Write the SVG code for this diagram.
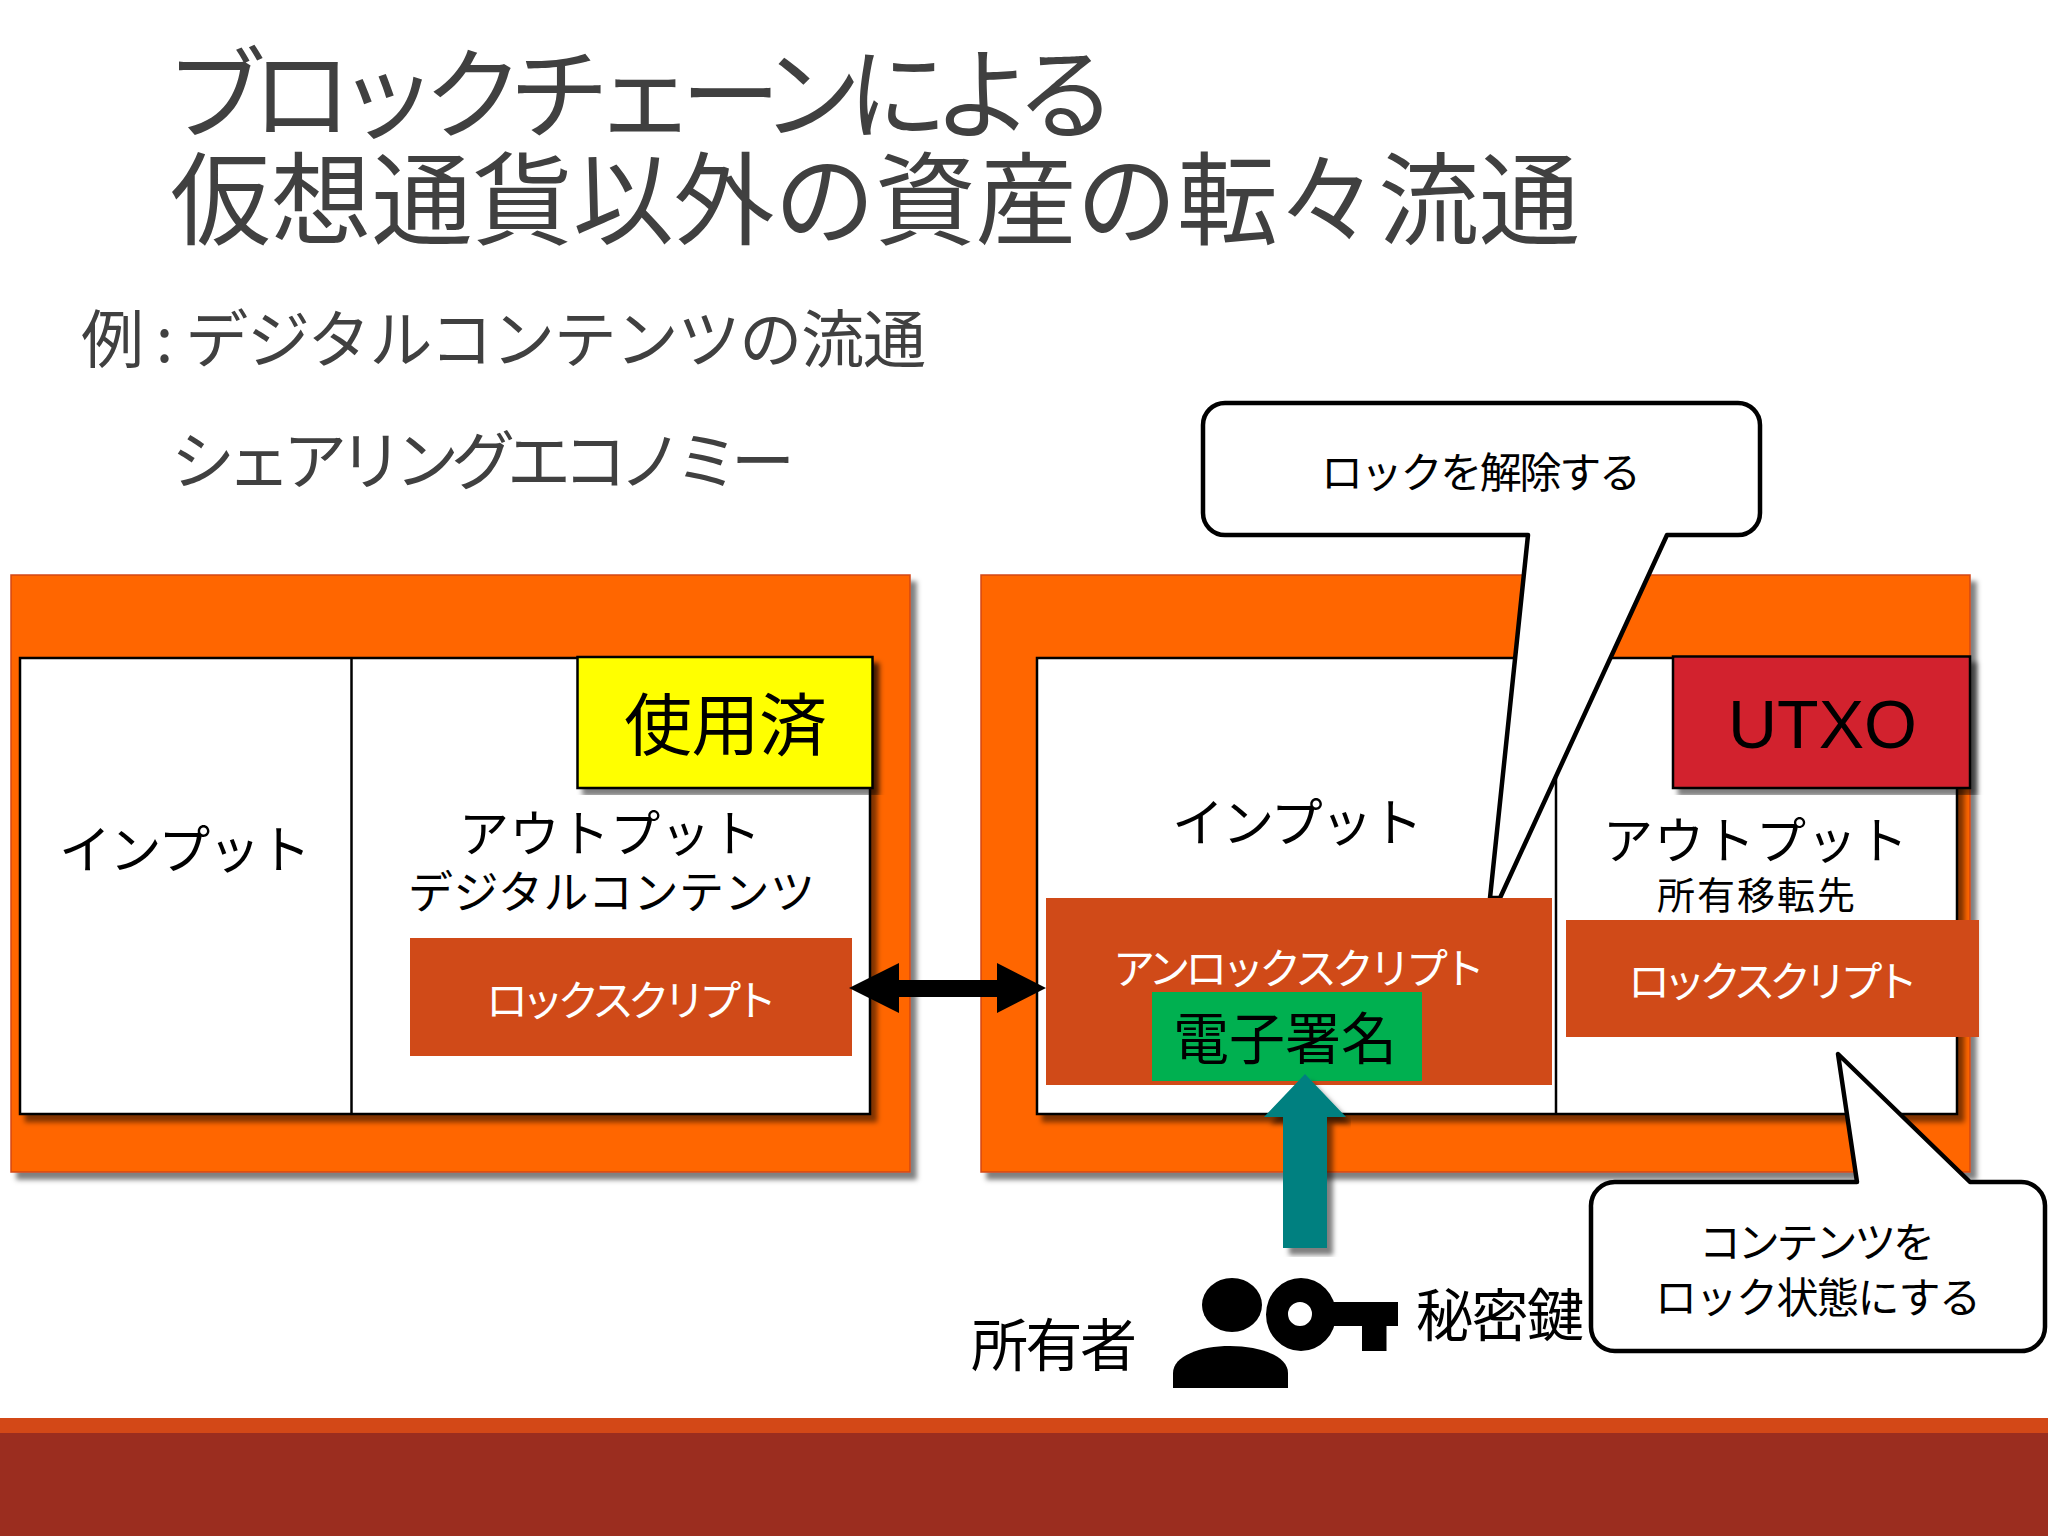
<svg xmlns="http://www.w3.org/2000/svg" width="2048" height="1536" viewBox="0 0 2048 1536">
<defs>
<filter id="sh" x="-5%" y="-5%" width="110%" height="110%"><feDropShadow dx="6" dy="7" stdDeviation="2.500" flood-color="#000" flood-opacity="0.5"/></filter>
</defs>
<style>
text{font-family:"Noto Sans CJK JP","Liberation Sans",sans-serif;fill:#000}
.t{fill:#404040}
.w{fill:#fff}
.o{fill:#ff6600;stroke:#d34817;stroke-width:1.5}
.b{fill:#fff;stroke:#000;stroke-width:2.5}
.l{fill:#d04a18}
.c{fill:#fff;stroke:#000;stroke-width:4.5;stroke-linejoin:round}
</style>
<rect width="2048" height="1536" fill="#fff"/>
<g id="band"><rect y="1418" width="2048" height="15" fill="#d34817"/><rect y="1433" width="2048" height="103" fill="#9b2d1f"/></g>
<g id="title">
<text class="t" x="166" y="131" font-size="100" textLength="950">ブロックチェーンによる</text>
<text class="t" x="170" y="237" font-size="101" textLength="1410">仮想通貨以外の資産の転々流通</text>
</g>
<g id="subtitle">
<text class="t" x="81" y="362" font-size="63" textLength="845">例 : デジタルコンテンツの流通</text>
<text class="t" x="171" y="484" font-size="64" textLength="624">シェアリングエコノミー</text>
</g>
<g id="tx-left">
<rect class="o" x="11" y="575" width="899" height="597" filter="url(#sh)"/>
<rect class="b" x="20" y="658" width="850" height="456" filter="url(#sh)"/>
<line x1="351.500" y1="658" x2="351.500" y2="1114" stroke="#000" stroke-width="2.500"/>
<text x="59" y="869" font-size="52" textLength="252">インプット</text>
<text x="459" y="852" font-size="50" textLength="302">アウトプット</text>
<text x="408" y="909" font-size="45" textLength="407">デジタルコンテンツ</text>
</g>
<g id="used">
<rect x="577.500" y="657" width="295" height="131" fill="#ffff00" stroke="#000" stroke-width="2.500" filter="url(#sh)"/>
<text x="624" y="750" font-size="68" textLength="203">使用済</text>
</g>
<g id="lock-left">
<rect class="l" x="410" y="938" width="442" height="118"/>
<text class="w" x="486" y="1016" font-size="42" textLength="291">ロックスクリプト</text>
</g>
<g id="tx-right">
<rect class="o" x="981" y="575" width="989" height="597" filter="url(#sh)"/>
<rect class="b" x="1037" y="658" width="920" height="456" filter="url(#sh)"/>
<line x1="1556" y1="658" x2="1556" y2="1114" stroke="#000" stroke-width="2.500"/>
<text x="1172" y="842" font-size="52" textLength="251">インプット</text>
<text x="1603" y="859" font-size="50" textLength="305">アウトプット</text>
<text x="1657" y="909" font-size="38" textLength="198">所有移転先</text>
</g>
<g id="utxo">
<rect x="1673" y="656.500" width="297" height="131.500" fill="#d2232e" stroke="#000" stroke-width="2.500" filter="url(#sh)"/>
<text x="1728" y="748" font-size="68" style="font-family:'Liberation Sans',sans-serif">UTXO</text>
</g>
<g id="callout-unlock">
<path class="c" d="M1225 403H1738A22 22 0 0 1 1760 425V513A22 22 0 0 1 1738 535H1667L1500 898H1490L1528 535H1225A22 22 0 0 1 1203 513V425A22 22 0 0 1 1225 403Z"/>
<text x="1321" y="488" font-size="42" textLength="320">ロックを解除する</text>
</g>
<g id="unlock">
<rect class="l" x="1046" y="898" width="506" height="187"/>
<text class="w" x="1113" y="984" font-size="42" textLength="372">アンロックスクリプト</text>
</g>
<g id="signature">
<rect x="1152" y="992" width="270" height="89" fill="#00b050"/>
<text x="1173" y="1059" font-size="56" textLength="224">電子署名</text>
</g>
<g id="lock-right">
<rect class="l" x="1566" y="920" width="413" height="117"/>
<text class="w" x="1628" y="997" font-size="42" textLength="290">ロックスクリプト</text>
</g>
<g id="connectors">
<polygon points="849,988 899,963 899,980 997,980 997,963 1046,988 997,1013 997,997 899,997 899,1013" fill="#000"/>
<polygon points="1305,1074 1346,1117 1327,1117 1327,1248 1283,1248 1283,1117 1264,1117" fill="#008080" filter="url(#sh)"/>
</g>
<g id="callout-lock">
<path class="c" d="M1616 1182H1857L1838 1054L1970 1182H2020A24 24 0 0 1 2045 1207V1327A24 24 0 0 1 2020 1351H1616A24 24 0 0 1 1591 1327V1207A24 24 0 0 1 1616 1182Z"/>
<text x="1699" y="1258" font-size="42" textLength="236">コンテンツを</text>
<text x="1655" y="1313" font-size="42" textLength="326">ロック状態にする</text>
</g>
<g id="owner">
<ellipse cx="1232" cy="1305" rx="30" ry="27" fill="#000"/>
<path d="M1173 1388V1373C1173 1356 1200 1346 1230 1346C1260 1346 1288 1356 1288 1373V1388Z" fill="#000"/>
<text x="971" y="1366" font-size="57" textLength="166">所有者</text>
</g>
<g id="key">
<path fill-rule="evenodd" d="M1266 1314.500A35 36.500 0 0 0 1336 1314.500A35 36.500 0 0 0 1266 1314.500ZM1288 1314A12 12 0 0 0 1312 1314A12 12 0 0 0 1288 1314Z" fill="#000"/>
<path d="M1330 1302H1398V1326H1386.500V1351H1362V1326H1330Z" fill="#000"/>
<text x="1416" y="1336" font-size="57" textLength="168">秘密鍵</text>
</g>
</svg>
